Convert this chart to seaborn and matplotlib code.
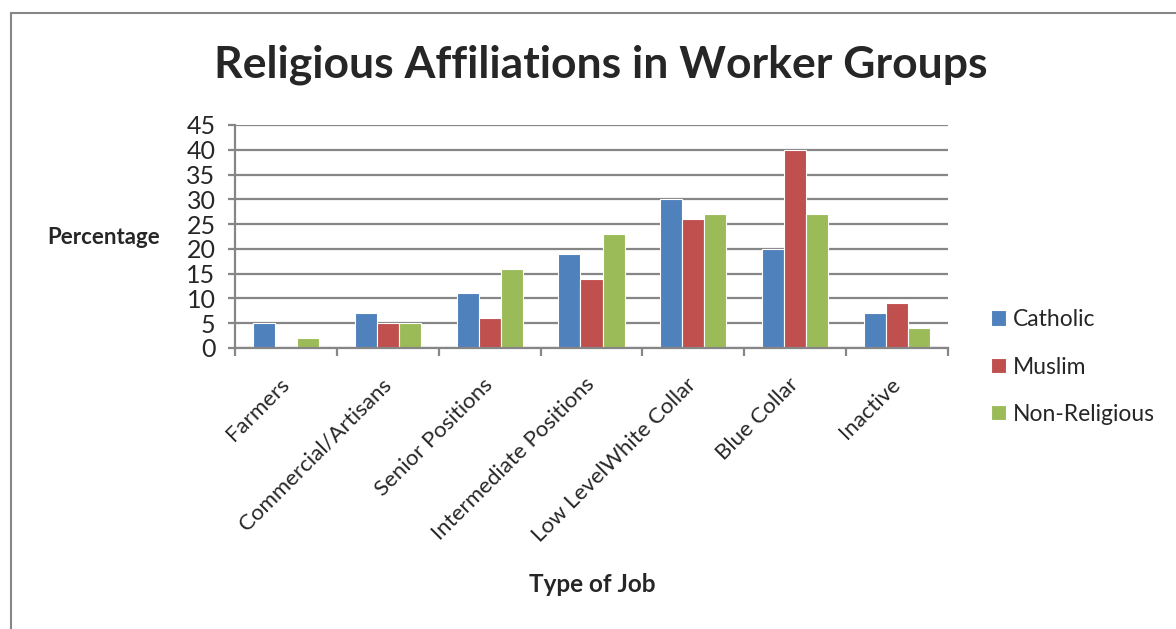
import numpy as np
import matplotlib
matplotlib.use('Agg')
import matplotlib.pyplot as plt
import pandas as pd
import seaborn as sns
from matplotlib.patches import Rectangle

jobs = ['Farmers', 'Commercial/Artisans', 'Senior Positions', 'Intermediate Positions',
        'Low LevelWhite Collar', 'Blue Collar', 'Inactive']
catholic = [5, 7, 11, 19, 30, 20, 7]
muslim = [0, 5, 6, 14, 26, 40, 9]
non_religious = [2, 5, 16, 23, 27, 27, 4]
groups = ['Catholic', 'Muslim', 'Non-Religious']
colors = ['#4F81BD', '#C0504D', '#9BBB59']

df = pd.DataFrame({'job': jobs * 3,
                   'group': [groups[0]] * 7 + [groups[1]] * 7 + [groups[2]] * 7,
                   'pct': catholic + muslim + non_religious})

sns.set_style('white')
plt.rcParams['font.family'] = ['Lato', 'DejaVu Sans']

fig = plt.figure(figsize=(11.76, 6.29), dpi=100)
ax = fig.add_axes([235 / 1176, 1 - 348 / 629, (948 - 235) / 1176, (348 - 125) / 629])

sns.barplot(data=df, x='job', y='pct', hue='group', palette=colors, width=0.65,
            saturation=1, edgecolor='white', linewidth=0.8, ax=ax, legend=True)

ax.set_ylim(0, 45)
ax.set_xlim(-0.5, 6.5)
ax.set_yticks(range(0, 46, 5))
ax.yaxis.grid(True, color='#868686', linewidth=1.6)
ax.set_axisbelow(True)
for s in ['top', 'right']:
    ax.spines[s].set_visible(False)
for s in ['left', 'bottom']:
    ax.spines[s].set_color('#868686')
    ax.spines[s].set_linewidth(1.6)

ax.tick_params(axis='y', labelsize=18, length=5, width=1.6, color='#868686', direction='out', left=True, pad=9)
ax.set_xticks(np.arange(7))
ax.set_xticklabels(jobs, rotation=45, ha='right', va='center', rotation_mode='anchor', fontsize=16)
ax.tick_params(axis='x', length=0, pad=24)
ax.set_xticks(np.arange(-0.5, 7, 1), minor=True)
ax.tick_params(axis='x', which='minor', length=6, width=1.6, color='#868686', direction='out', bottom=True)

ax.set_xlabel('')
ax.set_ylabel('')
fig.text(104 / 1176, 1 - 238 / 629, 'Percentage', ha='center', va='center', fontsize=16, fontweight='bold')
fig.text(592 / 1176, 1 - 585 / 629, 'Type of Job', ha='center', va='center', fontsize=17.5, fontweight='bold')
fig.text(601 / 1176, 1 - 65 / 629, 'Religious Affiliations in Worker Groups', ha='center', va='center',
         fontsize=32, fontweight='bold')

handles, labels = ax.get_legend_handles_labels()
ax.legend_.remove()
fig.legend(handles, labels, loc='center left', bbox_to_anchor=(982 / 1176, 1 - 367 / 629),
           frameon=False, fontsize=16.5, handlelength=0.65, handleheight=0.65, handletextpad=0.3,
           labelspacing=1.15, borderaxespad=0)

fig.patches.append(Rectangle((11 / 1176, -0.1), 1.2, 0.1 + 1 - 13 / 629, transform=fig.transFigure,
                             fill=False, edgecolor='#868686', linewidth=1.5))

fig.savefig('out.png', dpi=100)
